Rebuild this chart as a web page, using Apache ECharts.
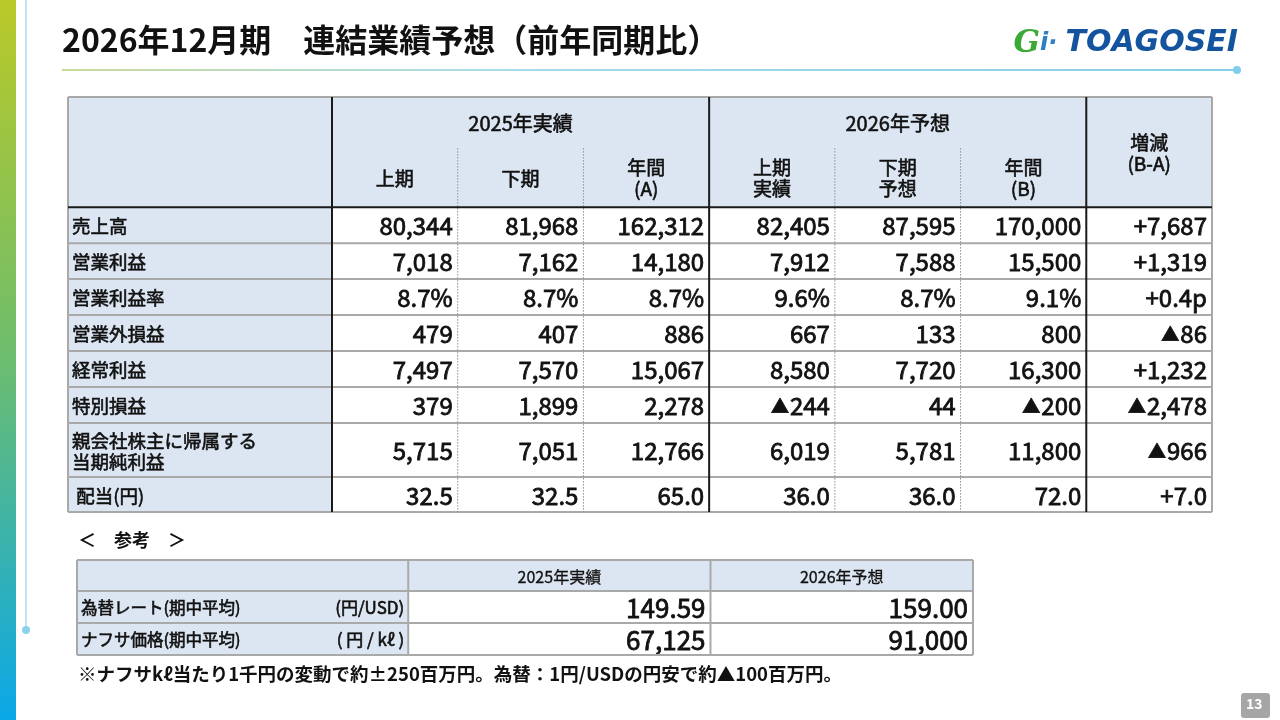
<!DOCTYPE html>
<html>
<head>
<meta charset="utf-8">
<script src="https://cdn.jsdelivr.net/npm/echarts@6/dist/echarts.min.js"></script>
<style>
html, body {margin:0; padding:0; background:#fff;}
#main {width:1280px; height:720px;}
</style>
</head>
<body>
<div id="main"></div>
<script type="text/javascript">
// ---- data ----
var rowLabels = ['売上高', '営業利益', '営業利益率', '営業外損益', '経常利益', '特別損益', '親会社株主に帰属する\n当期純利益', ' 配当(円)'];
var rowFormat = ['int', 'int', 'pct', 'int', 'int', 'int', 'int', 'dec'];
var h1_2025 = [80344, 7018, 8.7, 479, 7497, 379, 5715, 32.5];
var h2_2025 = [81968, 7162, 8.7, 407, 7570, 1899, 7051, 32.5];
var fy_2025 = [162312, 14180, 8.7, 886, 15067, 2278, 12766, 65.0];
var h1_2026 = [82405, 7912, 9.6, 667, 8580, -244, 6019, 36.0];
var h2_2026 = [87595, 7588, 8.7, 133, 7720, 44, 5781, 36.0];
var fy_2026 = [170000, 15500, 9.1, 800, 16300, -200, 11800, 72.0];
var diffBA = [7687, 1319, 0.4, -86, 1232, -2478, -966, 7.0];

var groupHeaders = ['2025年実績', '2026年予想'];
var subHeaders = ['上期', '下期', '年間\n(A)', '上期\n実績', '下期\n予想', '年間\n(B)'];
var diffHeader = '増減\n(B-A)';

var refItems = ['為替レート(期中平均)', 'ナフサ価格(期中平均)'];
var refUnits = ['(円/USD)', '( 円 / kℓ )'];
var refYears = ['2025年実績', '2026年予想'];
var ref2025 = [149.59, 67125];
var ref2026 = [159.00, 91000];
var refFormat = ['dec2', 'int'];

// ---- layout (column / row proportions) ----
var colW = [2.1, 1, 1, 1, 1, 1, 1, 1];
var rowH = [1.42, 1.64, 1, 1, 1, 1, 1, 1, 1.5, 0.97];
var refColW = [3.0, 1.0, 3.65, 3.17];
var refRowH = [1, 1.03, 1.03];

var HEAD = '#dce6f2', GRID = '#a9a9a9', INK = '#111', FONT = '"Noto Sans CJK JP", "Noto Sans", sans-serif';

function edges(w) {
  var e = [0];
  w.forEach(function (v) { e.push(e[e.length - 1] + v); });
  return e;
}
var cx = edges(colW), cy = edges(rowH), rx = edges(refColW), ry = edges(refRowH);

function fmt(v, f, signed) {
  var a = Math.abs(v), s;
  if (f === 'int') s = a.toLocaleString('en-US');
  else if (f === 'pct') s = a.toFixed(1) + (signed ? 'p' : '%');
  else if (f === 'dec2') s = a.toFixed(2);
  else s = a.toFixed(1);
  if (v < 0) return '▲' + s;
  return (signed ? '+' : '') + s;
}

// ---- build cells ----
function cell(list, ex, ey, c0, c1, r0, r1, text, align, bg, size, weight) {
  list.push({
    value: [ex[c0], ey[r0], ex[c1], ey[r1]],
    text: text, align: align, bg: bg, size: size, weight: weight == null ? 0.6 : weight
  });
}

var mainCells = [];
cell(mainCells, cx, cy, 0, 1, 0, 2, '', 'center', HEAD, 19);
groupHeaders.forEach(function (g, i) {
  cell(mainCells, cx, cy, 1 + i * 3, 4 + i * 3, 0, 1, g, 'center', HEAD, 20);
});
subHeaders.forEach(function (s, i) {
  cell(mainCells, cx, cy, 1 + i, 2 + i, 1, 2, s, 'center', HEAD, 19);
});
cell(mainCells, cx, cy, 7, 8, 0, 2, diffHeader, 'center', HEAD, 19);

var mainCols = [h1_2025, h2_2025, fy_2025, h1_2026, h2_2026, fy_2026];
rowLabels.forEach(function (lab, r) {
  cell(mainCells, cx, cy, 0, 1, r + 2, r + 3, lab, 'left', HEAD, 18.5);
  mainCols.forEach(function (col, c) {
    cell(mainCells, cx, cy, c + 1, c + 2, r + 2, r + 3, fmt(col[r], rowFormat[r], false), 'right', '#fff', 24, 0.8);
  });
  cell(mainCells, cx, cy, 7, 8, r + 2, r + 3, fmt(diffBA[r], rowFormat[r], true), 'right', '#fff', 24, 0.8);
});

var refCells = [];
cell(refCells, rx, ry, 0, 2, 0, 1, '', 'center', HEAD, 16);
refYears.forEach(function (y, i) {
  cell(refCells, rx, ry, 2 + i, 3 + i, 0, 1, y, 'center', HEAD, 16, 0.3);
});
refItems.forEach(function (it, r) {
  cell(refCells, rx, ry, 0, 2, r + 1, r + 2, it, 'left', HEAD, 16.5);
  cell(refCells, rx, ry, 1, 2, r + 1, r + 2, refUnits[r], 'right', null, 17);
  cell(refCells, rx, ry, 2, 3, r + 1, r + 2, fmt(ref2025[r], refFormat[r], false), 'right', '#fff', 26, 0.8);
  cell(refCells, rx, ry, 3, 4, r + 1, r + 2, fmt(ref2026[r], refFormat[r], false), 'right', '#fff', 26, 0.8);
});

// ---- rules ----
function rule(list, x0, y0, x1, y1, kind) {
  list.push({ value: [x0, y0, x1, y1], kind: kind });
}
var mainRules = [];
[0, 3, 4, 5, 6, 7, 8, 9, 10].forEach(function (i) { rule(mainRules, 0, cy[i], cx[8], cy[i], 'grey'); });
[0, 8].forEach(function (i) { rule(mainRules, cx[i], 0, cx[i], cy[10], 'grey'); });
[2, 3, 5, 6].forEach(function (i) { rule(mainRules, cx[i], cy[1], cx[i], cy[10], 'dot'); });
rule(mainRules, 0, cy[2], cx[8], cy[2], 'dark');
[1, 4, 7].forEach(function (i) { rule(mainRules, cx[i], 0, cx[i], cy[10], 'dark'); });

var refRules = [];
[0, 1, 2, 3].forEach(function (i) { rule(refRules, 0, ry[i], rx[4], ry[i], 'grey'); });
[0, 2, 3, 4].forEach(function (i) { rule(refRules, rx[i], 0, rx[i], ry[3], 'grey'); });

// ---- render functions ----
function cellRenderer(list) {
  return function (params, api) {
    var c = list[params.dataIndex];
    var p0 = api.coord([c.value[0], c.value[1]]);
    var p1 = api.coord([c.value[2], c.value[3]]);
    var x = p0[0], y = p0[1], w = p1[0] - p0[0], h = p1[1] - p0[1];
    var pad = c.size >= 20 ? 5 : 4;
    var tx = c.align === 'left' ? x + pad : (c.align === 'right' ? x + w - pad : x + w / 2);
    var kids = [];
    if (c.bg) kids.push({ type: 'rect', shape: { x: x, y: y, width: w, height: h }, style: { fill: c.bg } });
    if (c.text) kids.push({
      type: 'text',
      style: {
        text: c.text.replace('▲', '{t|▲}'), x: tx, y: y + h / 2 + 1, align: c.align, verticalAlign: 'middle',
        fontSize: c.size, fontFamily: FONT, fontWeight: 'normal', fill: INK,
        stroke: INK, lineWidth: c.weight,
        lineHeight: Math.round(c.size * 1.13),
        rich: { t: { fontSize: Math.round(c.size * 0.75), fontFamily: FONT, fill: INK, stroke: INK, lineWidth: c.weight, padding: [0, 1, 0, 0] } }
      }
    });
    return { type: 'group', children: kids };
  };
}
function ruleRenderer(list) {
  return function (params, api) {
    var r = list[params.dataIndex];
    var p0 = api.coord([r.value[0], r.value[1]]);
    var p1 = api.coord([r.value[2], r.value[3]]);
    var st = { stroke: GRID, lineWidth: 2 };
    if (r.kind === 'dark') st = { stroke: '#1a1a1a', lineWidth: 2 };
    if (r.kind === 'dot') st = { stroke: '#8c8c8c', lineWidth: 1, lineDash: [1.5, 1.5] };
    return { type: 'line', shape: { x1: p0[0], y1: p0[1], x2: p1[0], y2: p1[1] }, style: st };
  };
}

var hidden = { show: false };
var chart = echarts.init(document.getElementById('main'));
var option = {
  animation: false,
  backgroundColor: '#fff',
  grid: [
    { left: 68, top: 97, width: 1144, height: 415 },
    { left: 77, top: 560, width: 896, height: 95 }
  ],
  xAxis: [
    { type: 'value', gridIndex: 0, min: 0, max: cx[8], axisLine: hidden, axisTick: hidden, axisLabel: hidden, splitLine: hidden },
    { type: 'value', gridIndex: 1, min: 0, max: rx[4], axisLine: hidden, axisTick: hidden, axisLabel: hidden, splitLine: hidden }
  ],
  yAxis: [
    { type: 'value', gridIndex: 0, inverse: true, min: 0, max: cy[10], axisLine: hidden, axisTick: hidden, axisLabel: hidden, splitLine: hidden },
    { type: 'value', gridIndex: 1, inverse: true, min: 0, max: ry[3], axisLine: hidden, axisTick: hidden, axisLabel: hidden, splitLine: hidden }
  ],
  series: [
    { type: 'custom', xAxisIndex: 0, yAxisIndex: 0, renderItem: cellRenderer(mainCells), data: mainCells, encode: { x: [0, 2], y: [1, 3] }, z: 2 },
    { type: 'custom', xAxisIndex: 0, yAxisIndex: 0, renderItem: ruleRenderer(mainRules), data: mainRules, encode: { x: [0, 2], y: [1, 3] }, z: 3 },
    { type: 'custom', xAxisIndex: 1, yAxisIndex: 1, renderItem: cellRenderer(refCells), data: refCells, encode: { x: [0, 2], y: [1, 3] }, z: 2 },
    { type: 'custom', xAxisIndex: 1, yAxisIndex: 1, renderItem: ruleRenderer(refRules), data: refRules, encode: { x: [0, 2], y: [1, 3] }, z: 3 }
  ],
  graphic: [
    { type: 'rect', left: 0, top: 0, shape: { width: 16, height: 720 },
      style: { fill: new echarts.graphic.LinearGradient(0, 0, 0, 1, [
        { offset: 0, color: '#bac928' }, { offset: 0.5, color: '#6cbd6e' }, { offset: 1, color: '#0aa8e8' }]) } },
    { type: 'line', shape: { x1: 26, y1: 0, x2: 26, y2: 630 }, style: { stroke: '#a6dbef', lineWidth: 1.5 } },
    { type: 'circle', shape: { cx: 26, cy: 630, r: 4 }, style: { fill: '#8ad2f0' } },
    { type: 'line', shape: { x1: 62, y1: 70, x2: 1237, y2: 70 },
      style: { lineWidth: 2, stroke: new echarts.graphic.LinearGradient(0, 0, 1, 0, [
        { offset: 0, color: '#c9d99a' }, { offset: 0.35, color: '#a9dbe6' }, { offset: 1, color: '#85cfea' }]) } },
    { type: 'circle', shape: { cx: 1237, cy: 70, r: 4 }, style: { fill: '#7fcdee' } },
    { type: 'text', left: 62, top: 24,
      style: { text: '2026年12月期　連結業績予想（前年同期比）', fontSize: 32, fontWeight: 'bold', fontFamily: FONT, fill: INK } },
    { type: 'text', right: 42, top: 28,
      style: { text: '{g|G}{i|i·}{t|TOAGOSEI}',
        rich: {
          g: { fontSize: 31, fontStyle: 'italic', fontWeight: 'bold', fontFamily: 'DejaVu Serif', fill: '#3aa935' },
          i: { fontSize: 24, fontStyle: 'italic', fontWeight: 'bold', fontFamily: 'DejaVu Sans', fill: '#2f7fc6', padding: [0, 8, 0, 0] },
          t: { fontSize: 30, fontStyle: 'italic', fontWeight: 'bold', fontFamily: 'DejaVu Sans', fill: '#14539e' }
        } } },
    { type: 'text', left: 78, top: 531,
      style: { text: '＜　参考　＞', fontSize: 18, fontWeight: 'bold', fontFamily: FONT, fill: INK } },
    { type: 'text', left: 78, top: 665,
      style: { text: '※ナフサkℓ当たり1千円の変動で約±250百万円。為替：1円/USDの円安で約▲100百万円。', fontSize: 18.5, fontWeight: 'bold', fontFamily: FONT, fill: INK } },
    { type: 'rect', left: 1241, top: 693, shape: { width: 29, height: 25, r: 3 }, style: { fill: '#a6a6a6' } },
    { type: 'text', left: 1246, top: 697,
      style: { text: '13', fontSize: 14, fontWeight: 'bold', fontFamily: FONT, fill: '#fff' } }
  ]
};
chart.setOption(option);
</script>
</body>
</html>
